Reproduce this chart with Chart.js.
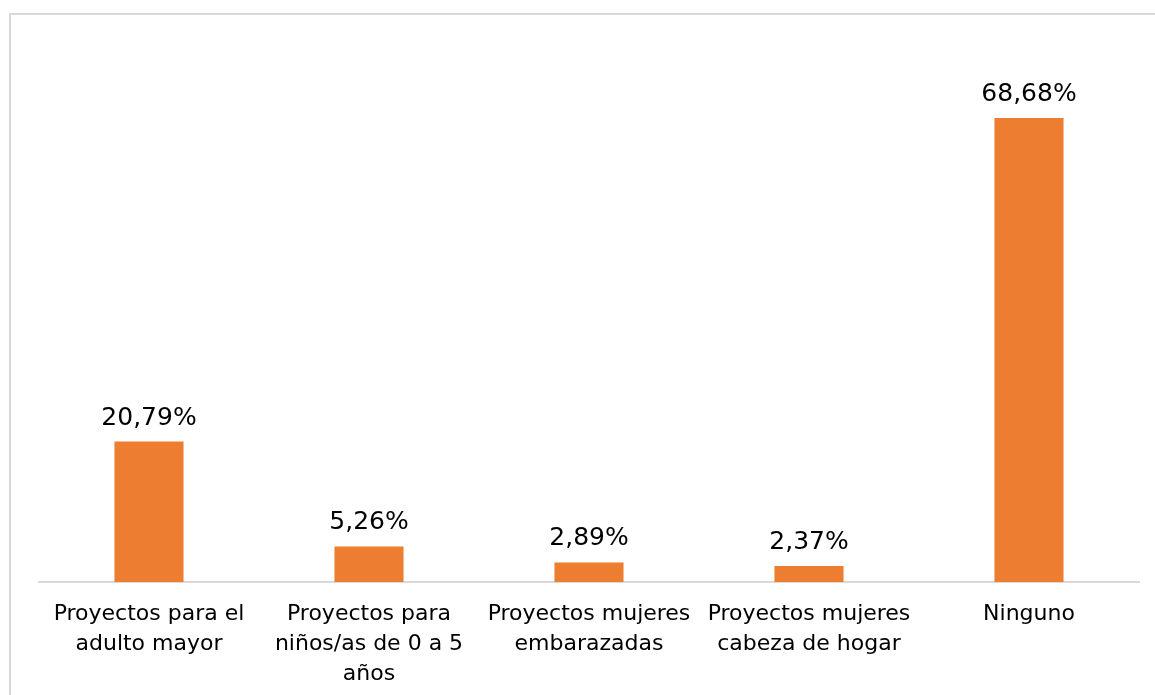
<!DOCTYPE html>
<html>
<head>
<meta charset="utf-8">
<script src="https://cdn.jsdelivr.net/npm/chart.js@4"></script>
<style>
  html, body { margin: 0; padding: 0; background: #fff; }
  #marco { position: absolute; left: 9px; top: 13px; width: 1160px; height: 700px;
           border-left: 2px solid #d9d9d9; border-top: 2px solid #d9d9d9; }
  #contenedor { position: absolute; left: 0; top: 0; width: 1155px; height: 695px; }
</style>
</head>
<body>
<div id="marco"></div>
<div id="contenedor"><canvas id="grafico"></canvas></div>
<script>
// categorias (etiquetas en varias lineas)
const categorias = [
  ["Proyectos para el", "adulto mayor"],
  ["Proyectos para", "niños/as de 0 a 5", "años"],
  ["Proyectos mujeres", "embarazadas"],
  ["Proyectos mujeres", "cabeza de hogar"],
  ["Ninguno"]
];
// porcentajes
const valores = [20.79, 5.26, 2.89, 2.37, 68.68];
const etiquetasValor = ["20,79%", "5,26%", "2,89%", "2,37%", "68,68%"];

const fuente = "'DejaVu Sans', sans-serif";

// plugin sencillo para escribir el valor encima de cada barra
const etiquetasBarras = {
  id: 'etiquetasBarras',
  afterDatasetsDraw(chart) {
    const ctx = chart.ctx;
    const meta = chart.getDatasetMeta(0);
    ctx.save();
    ctx.fillStyle = '#000';
    ctx.font = '25px ' + fuente;
    ctx.textAlign = 'center';
    ctx.textBaseline = 'alphabetic';
    meta.data.forEach((barra, i) => {
      ctx.fillText(etiquetasValor[i], barra.x, barra.y - 17);
    });
    ctx.restore();
  }
};

window.onload = () => {
  const ctx = document.getElementById('grafico').getContext('2d');
  new Chart(ctx, {
    type: 'bar',
    data: {
      labels: categorias,
      datasets: [{
        data: valores,
        backgroundColor: '#ED7D31',
        categoryPercentage: 1,
        barPercentage: 0.314
      }]
    },
    options: {
      responsive: true,
      maintainAspectRatio: false,
      animation: false,
      layout: { padding: { left: 39, right: 16, top: 41.5, bottom: 0 } },
      plugins: { legend: { display: false }, tooltip: { enabled: false } },
      scales: {
        x: {
          grid: { display: false },
          border: { display: true, color: '#d9d9d9', width: 2 },
          ticks: {
            color: '#000',
            font: { family: fuente, size: 22, lineHeight: 1.36 },
            padding: 9,
            maxRotation: 0,
            autoSkip: false
          },
          afterFit(scale) { scale.height = 113; }
        },
        y: {
          display: false,
          min: 0,
          max: 80
        }
      }
    },
    plugins: [etiquetasBarras]
  });
};
</script>
</body>
</html>
